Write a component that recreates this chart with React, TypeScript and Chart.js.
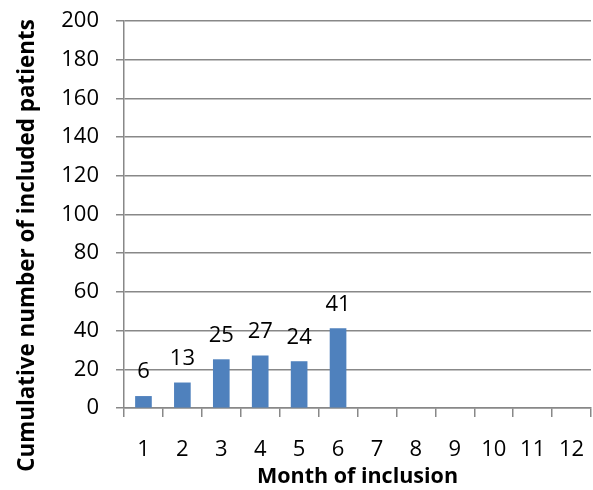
import React, { useEffect, useRef } from 'react';
import { Chart, registerables } from 'chart.js';

Chart.register(...registerables);

const months = ['1', '2', '3', '4', '5', '6', '7', '8', '9', '10', '11', '12'];
const patients = [6, 13, 25, 27, 24, 41, null, null, null, null, null, null];
const yTitle = 'Cumulative number of included patients';
const xTitle = 'Month of inclusion';

const FONT = '"Open Sans", sans-serif';
const GRID = '#888888';

// value labels above the bars
const barLabels = {
  id: 'barLabels',
  afterDatasetsDraw(chart: Chart) {
    const ctx = chart.ctx;
    const meta = chart.getDatasetMeta(0);
    ctx.save();
    ctx.font = `22px ${FONT}`;
    ctx.fillStyle = '#000000';
    ctx.textAlign = 'center';
    ctx.textBaseline = 'alphabetic';
    meta.data.forEach((bar: any, i: number) => {
      const v = patients[i];
      if (v == null) return;
      ctx.fillText(String(v), bar.x, bar.y - 18);
    });
    ctx.restore();
  },
};

// rotated y title, centred on the whole chart height
const yTitlePlugin = {
  id: 'yTitlePlugin',
  afterDraw(chart: Chart) {
    const ctx = chart.ctx;
    ctx.save();
    ctx.translate(27.5, 245.5);
    ctx.rotate(-Math.PI / 2);
    ctx.font = `bold 22.4px ${FONT}`;
    ctx.fillStyle = '#000000';
    ctx.textAlign = 'center';
    ctx.textBaseline = 'middle';
    ctx.fillText(yTitle, 0, 0);
    ctx.restore();
  },
};

export default function App() {
  const canvasRef = useRef<HTMLCanvasElement>(null);

  useEffect(() => {
    document.body.style.margin = '0';
    if (!canvasRef.current) return;
    const chart = new Chart(canvasRef.current, {
      type: 'bar',
      data: {
        labels: months,
        datasets: [{
          data: patients,
          backgroundColor: '#4F81BD',
          barThickness: 16,
        }],
      },
      options: {
        animation: false,
        responsive: true,
        maintainAspectRatio: false,
        layout: { padding: { top: 21, right: 2, bottom: 0, left: 0 } },
        plugins: {
          legend: { display: false },
          tooltip: { enabled: false },
        },
        scales: {
          y: {
            min: 0,
            max: 200,
            ticks: { stepSize: 20, color: '#000000', padding: 17, font: { family: FONT, size: 22 } },
            grid: { color: GRID, lineWidth: 1.5, tickLength: 8 },
            border: { display: true, color: GRID, width: 1.5 },
            afterFit(scale: any) {
              scale.width = 124;
              scale.paddingTop = 0;
              scale.paddingBottom = 0;
            },
          },
          x: {
            ticks: { color: '#000000', padding: 20, font: { family: FONT, size: 22 } },
            grid: { drawOnChartArea: false, color: GRID, lineWidth: 1.5, tickLength: 9, offset: true },
            border: { display: true, color: GRID, width: 1.5 },
            title: {
              display: true,
              text: xTitle,
              color: '#000000',
              font: { family: FONT, size: 21.5, weight: 'bold' },
              padding: { top: 0, bottom: 0 },
            },
            afterFit(scale: any) {
              scale.height = 82;
              scale.paddingLeft = 0;
              scale.paddingRight = 0;
            },
          },
        },
      },
      plugins: [barLabels, yTitlePlugin],
    });
    return () => chart.destroy();
  }, []);

  return (
    <div style={{ width: 593, height: 490, position: 'relative', background: '#ffffff' }}>
      <canvas ref={canvasRef}></canvas>
    </div>
  );
}
